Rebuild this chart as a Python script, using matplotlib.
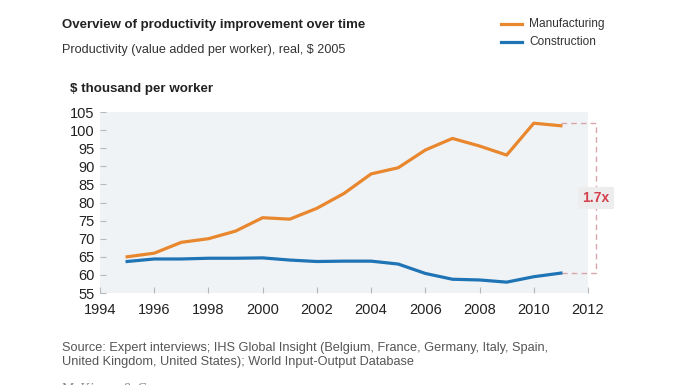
import matplotlib
matplotlib.use("Agg")
import matplotlib.pyplot as plt

years = [1995, 1996, 1997, 1998, 1999, 2000, 2001, 2002, 2003, 2004, 2005, 2006, 2007, 2008, 2009, 2010, 2011]
manufacturing = [65.0, 66.0, 69.0, 70.0, 72.1, 75.8, 75.4, 78.4, 82.5, 87.9, 89.6, 94.5, 97.7, 95.6, 93.1, 101.9, 101.2]
construction = [63.7, 64.4, 64.4, 64.6, 64.6, 64.7, 64.1, 63.7, 63.8, 63.8, 63.0, 60.4, 58.8, 58.6, 58.0, 59.5, 60.5]
xticks = [1994, 1996, 1998, 2000, 2002, 2004, 2006, 2008, 2010, 2012]
yticks = [55, 60, 65, 70, 75, 80, 85, 90, 95, 100, 105]
series_names = ["Manufacturing", "Construction"]

plt.rcParams['font.family'] = ['Liberation Sans', 'DejaVu Sans']

W, H = 696, 385
fig = plt.figure(figsize=(W / 100, H / 100), dpi=100)
fig.patch.set_facecolor('white')

ax = fig.add_axes([100 / W, 1 - 293 / H, 488 / W, 181 / H])
ax.set_facecolor('#F0F3F5')
orange = '#E8872E'
blue = '#1F74B5'
ax.plot(years, manufacturing, color=orange, lw=2.3, zorder=3)
ax.plot(years, construction, color=blue, lw=2.3, zorder=3)

ax.set_xlim(1994, 2012)
ax.set_ylim(55, 105)
ax.set_xticks(xticks)
ax.set_yticks(yticks)
for s in ax.spines.values():
    s.set_visible(False)
ax.tick_params(axis='both', direction='in', color='#B8B8B8', length=4, width=0.8,
               labelsize=10.5, labelcolor='#222222', pad=4)
ax.tick_params(axis='x', pad=7)

# bracket annotation
x0 = years[-1]
x1 = 2012.3
top = max(manufacturing)
bot = construction[-1]
dcol = '#D9A5AC'
ax.plot([x0, x1, x1, x0], [top, top, bot, bot], color=dcol, lw=1.0,
        linestyle=(0, (4, 3)), clip_on=False, zorder=2)
ax.text(x1, (top + bot) / 2, "1.7x", color='#D4404E', fontsize=10, fontweight='bold',
        ha='center', va='center', zorder=4,
        bbox=dict(boxstyle='square,pad=0.3', fc='#EDEDED', ec='none'))

# titles
fig.text(62 / W, 1 - 25 / H, "Overview of productivity improvement over time",
         fontsize=9.5, fontweight='bold', color='#222222', va='center')
fig.text(62 / W, 1 - 50 / H, "Productivity (value added per worker), real, $ 2005",
         fontsize=9.1, color='#333333', va='center')
fig.text(70 / W, 1 - 89 / H, "$ thousand per worker",
         fontsize=9.6, fontweight='bold', color='#222222', va='center')

# legend
for i, (name, col) in enumerate(zip(series_names, [orange, blue])):
    yy = 1 - (24 + 18 * i) / H
    fig.add_artist(plt.Line2D([501 / W, 522 / W], [yy, yy], color=col, lw=2.3))
    fig.text(529 / W, yy, name, fontsize=8.6, color='#333333', va='center')

fig.text(62 / W, 1 - 348 / H,
         "Source: Expert interviews; IHS Global Insight (Belgium, France, Germany, Italy, Spain,",
         fontsize=9.2, color='#555555', va='center')
fig.text(62 / W, 1 - 362 / H,
         "United Kingdom, United States); World Input-Output Database",
         fontsize=9.2, color='#555555', va='center')
fig.text(62 / W, 1 - 390 / H, "McKinsey & Company", fontsize=10, color='#888888',
         family='Liberation Serif', va='center')

fig.savefig("out.png", dpi=100)
